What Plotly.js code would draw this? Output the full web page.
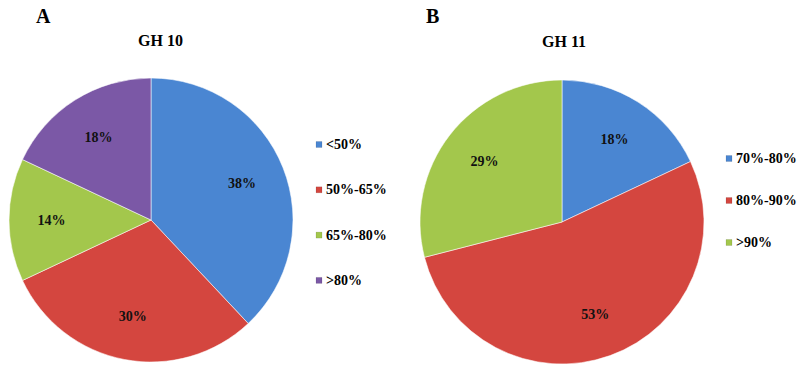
<!DOCTYPE html>
<html>
<head>
<meta charset="utf-8">
<script src="https://cdn.plot.ly/plotly-3.0.1.min.js"></script>
<style>html,body{margin:0;padding:0;background:#fff;}#chart{width:798px;height:373px;}</style>
</head>
<body>
<div id="chart"></div>
<script>
// Data
const gh10Labels = ["<50%", "50%-65%", "65%-80%", ">80%"];
const gh10Values = [38, 30, 14, 18];
const gh11Labels = ["70%-80%", "80%-90%", ">90%"];
const gh11Values = [18, 53, 29];
const gh10Colors = ["#4a86d2", "#d4463f", "#a3c74c", "#7b58a6"];
const gh11Colors = ["#4a86d2", "#d4463f", "#a3c74c"];

const W = 798, H = 373;
const font = "'Liberation Serif'";
const px = x => x / W;
const py = y => 1 - y / H;

const dom10 = {x: [px(9), px(293)], y: [py(362), py(78)]};
const dom11 = {x: [px(420), px(704)], y: [py(364), py(80)]};

function pieBase(labels, values, colors, dom) {
  return {
    type: "pie", labels: labels, values: values, sort: false,
    direction: "clockwise", rotation: 0,
    marker: {colors: colors, line: {color: "rgba(255,255,255,0.55)", width: 1}},
    textinfo: "none", domain: dom, showlegend: false, hoverinfo: "label+percent"
  };
}
// transparent overlay pie used only to place the percentage labels
function pieText(labels, values, dom) {
  return {
    type: "pie", labels: labels, values: values, sort: false,
    direction: "clockwise", rotation: 0, hole: 0.38,
    marker: {colors: labels.map(() => "rgba(0,0,0,0)"), line: {width: 0}},
    texttemplate: "%{value}%", textposition: "inside",
    insidetextorientation: "horizontal",
    textfont: {family: font, size: 14, color: "#111111", weight: "bold"},
    domain: dom, showlegend: false, hoverinfo: "skip"
  };
}

const traces = [
  pieBase(gh10Labels, gh10Values, gh10Colors, dom10),
  pieText(gh10Labels, gh10Values, dom10),
  pieBase(gh11Labels, gh11Values, gh11Colors, dom11),
  pieText(gh11Labels, gh11Values, dom11)
];

const annotations = [
  {text: "<b>A</b>", x: px(43), y: py(16), xanchor: "center", yanchor: "middle", font: {family: font, size: 20, color: "#000"}},
  {text: "<b>B</b>", x: px(432), y: py(16), xanchor: "center", yanchor: "middle", font: {family: font, size: 20, color: "#000"}},
  {text: "<b>GH 10</b>", x: px(160), y: py(41), xanchor: "center", yanchor: "middle", font: {family: font, size: 16, color: "#000"}},
  {text: "<b>GH 11</b>", x: px(564), y: py(42), xanchor: "center", yanchor: "middle", font: {family: font, size: 16, color: "#000"}}
];
const shapes = [];

function addLegend(labels, colors, x0, y0, step) {
  labels.forEach((lab, i) => {
    const yc = y0 + i * step;
    shapes.push({type: "rect", xref: "paper", yref: "paper",
      x0: px(x0), x1: px(x0 + 6), y0: py(yc + 3), y1: py(yc - 3),
      fillcolor: colors[i], line: {width: 0.5, color: "rgba(0,0,0,0.2)"}});
    annotations.push({text: "<b>" + lab.replace("<", "&lt;").replace(">", "&gt;") + "</b>",
      x: px(x0 + 8), y: py(yc), xanchor: "left", yanchor: "middle",
      font: {family: font, size: 14, color: "#000"}});
  });
}
addLegend(gh10Labels, gh10Colors, 316, 144.5, 45.3);
addLegend(gh11Labels, gh11Colors, 726, 158.5, 42);

annotations.forEach(a => { a.xref = "paper"; a.yref = "paper"; a.showarrow = false; });

Plotly.newPlot("chart", traces, {
  width: W, height: H,
  margin: {l: 0, r: 0, t: 0, b: 0},
  paper_bgcolor: "#fff", plot_bgcolor: "#fff",
  annotations: annotations, shapes: shapes, showlegend: false
}, {displayModeBar: false, staticPlot: true});
</script>
</body>
</html>
